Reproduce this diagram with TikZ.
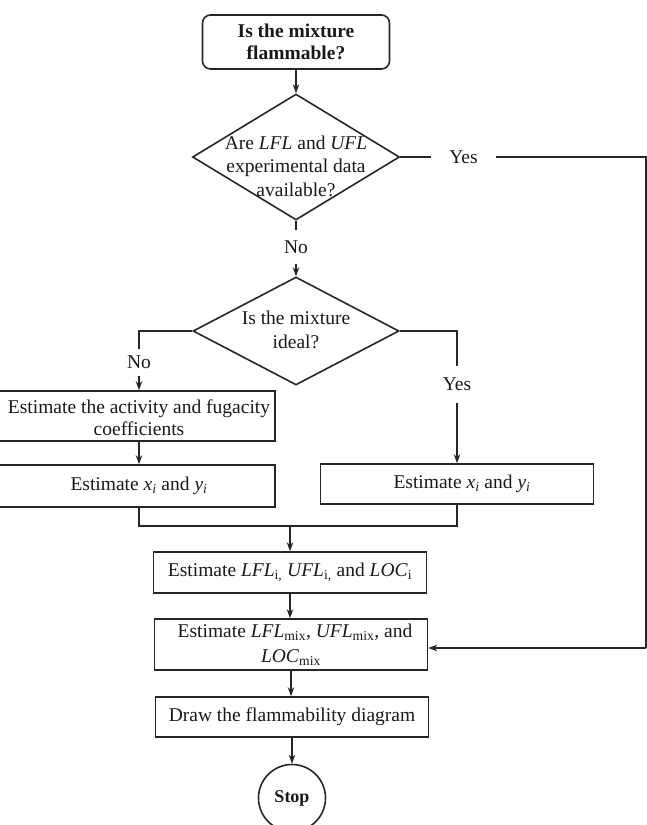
\documentclass[tikz,border=0pt]{standalone}
\usepackage{fontspec}
\setmainfont{Liberation Serif}
\usetikzlibrary{shapes.geometric,arrows.meta,calc}
\begin{document}
\begin{tikzpicture}[x=1pt,y=-1pt,
  line width=1.6pt, draw=black!85,
  every node/.style={font=\fontsize{19.5}{23}\selectfont, inner sep=0pt, text=black!90},
  box/.style={draw, rectangle, line width=1.6pt},
  dia/.style={draw, diamond, line width=1.6pt},
  arr/.style={-{Stealth[length=9pt,width=6.5pt]}},
  lbl/.style={minimum height=#1},
]
\clip (0,0) rectangle (647,825);

% top box
\node[box, rounded corners=8pt, minimum width=187pt, minimum height=54pt, align=center,
      font=\fontsize{19.5}{21.5}\selectfont\bfseries] (top) at (296,42) {Is the mixture\\flammable?};

% decision 1
\node[dia, minimum width=207pt, minimum height=126pt] (d1) at (296,157) {};
\node[align=center, font=\fontsize{19.5}{23.5}\selectfont] (d1t) at (296,166)
  {Are \textit{LFL} and \textit{UFL}\\experimental data\\available?};
\draw[arr] (top.south) -- (d1.north);

% yes 1
\node[minimum width=63pt] (yes1) at (463.5,157) {Yes};
\coordinate (c1) at (646,157);
\coordinate (c2) at (646,648);

% no 1
\node[lbl=33pt] (no1) at (296,247) {No};

% decision 2
\node[dia, minimum width=206pt, minimum height=108pt] (d2) at (296,331) {};
\node[align=center, font=\fontsize{19.5}{24}\selectfont] (d2t) at (296,330) {Is the mixture\\ideal?};
\draw (d1.south) -- (no1.north);
\draw[arr] (no1.south) -- (d2.north);

% left branch
\node[lbl=25pt] (no2) at (139,362.5) {No};
\node[box, minimum width=290pt, minimum height=50pt] (b1) at (130,416) {};
\node[align=center, font=\fontsize{19.5}{22}\selectfont] (t1) at (139,418)
  {Estimate the activity and fugacity\\coefficients};
\node[box, minimum width=290pt, minimum height=42pt] (b2) at (130,486) {};
\node (t2) at (139,486) {Estimate \textit{x}\textsubscript{\textit{i}} and \textit{y}\textsubscript{\textit{i}}};
\draw (d2.west) -| (no2.north);
\draw[arr] (no2.south) -- (no2 |- b1.north);
\draw[arr] (no2 |- b1.south) -- (no2 |- b2.north);

% right branch
\node[lbl=35pt] (yes2) at (457,384.5) {Yes};
\node[box, minimum width=273pt, minimum height=40pt] (bR) at (457,484)
  {\hspace*{10pt}Estimate \textit{x}\textsubscript{\textit{i}} and \textit{y}\textsubscript{\textit{i}}};
\draw (d2.east) -| (yes2.north);
\draw[arr] (yes2.south) -- (bR.north);

% lower chain
\node[box, minimum width=273pt, minimum height=41pt] (lfl) at (290,572.5)
  {Estimate \textit{LFL}\textsubscript{i,} \textit{UFL}\textsubscript{i,} and \textit{LOC}\textsubscript{i}};
\node[box, minimum width=273pt, minimum height=51pt, align=center,
      font=\fontsize{19.5}{25}\selectfont] (mix) at (291,644.5)
  {\hspace*{8pt}Estimate \textit{LFL}\textsubscript{mix}, \textit{UFL}\textsubscript{mix}, and\\\textit{LOC}\textsubscript{mix}};
\node[box, minimum width=273pt, minimum height=40pt] (drw) at (292,717) {Draw the flammability diagram};
\node[draw, circle, line width=1.6pt, minimum size=67pt, font=\fontsize{18}{20}\selectfont\bfseries] (stop) at (292,798) {Stop};

% merge
\coordinate (mL) at (139,526);
\coordinate (mR) at (457,526);
\draw (no2 |- b2.south) -- (mL) -- (mR) -- (bR.south);
\draw[arr] (lfl.north |- mL) -- (lfl.north);
\draw[arr] (lfl.south) -- (lfl.south |- mix.north);
\draw[arr] (mix.south) -- (mix.south |- drw.north);
\draw[arr] (drw.south) -- (drw.south |- stop.north);

% yes path to mix
\draw (d1.east) -- (yes1.west);
\draw (yes1.east) -- (c1) -- (c2);
\draw[arr] (c2) -- (mix.east |- c2);
\end{tikzpicture}
\end{document}
